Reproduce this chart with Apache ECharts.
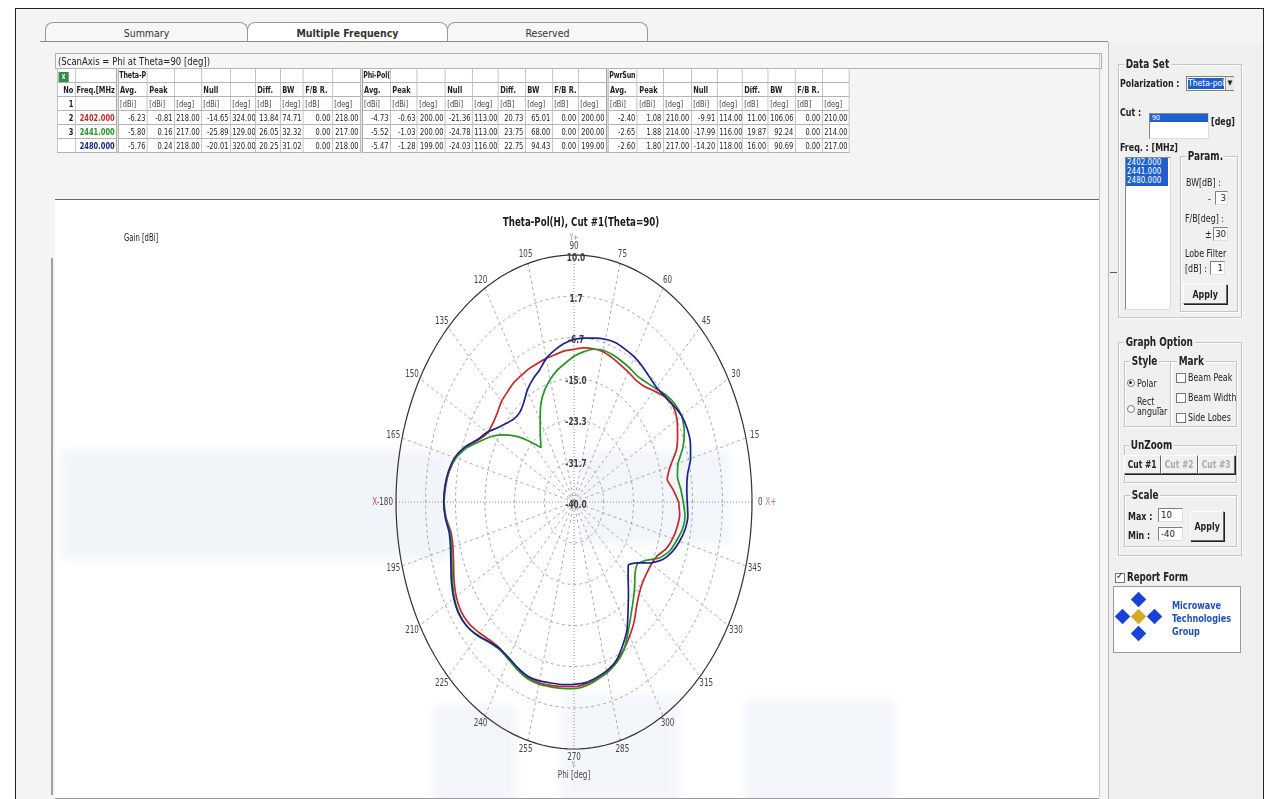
<!DOCTYPE html>
<html><head><meta charset="utf-8">
<script src="https://cdn.jsdelivr.net/npm/echarts/dist/echarts.min.js"></script>
<style>
html,body{margin:0;padding:0;background:#fff;width:1267px;height:799px;overflow:hidden;
 font-family:"DejaVu Sans Condensed","Liberation Sans",Arial,sans-serif;color:#222;}
.a{position:absolute;}
.tab{position:absolute;top:22px;height:19px;border:1px solid #9a9a9a;border-bottom:none;border-radius:8px 8px 0 0;background:#f7f7f7;font-size:10.5px;text-align:center;line-height:20px;color:#333;}
#tblwrap{position:absolute;left:57px;top:68px;transform:scaleX(.78);transform-origin:0 0;}
#tbl{border-collapse:collapse;table-layout:fixed;background:#fff;}
#tbl td{border:1px solid #b4b4b4;height:13px;padding:0 2px;font-size:9.5px;white-space:nowrap;overflow:hidden;line-height:13px;}
.gb{position:absolute;border:1px solid #c4c4c4;box-shadow:inset 1px 1px 0 #fff,1px 1px 0 #fff;}
.gbt{position:absolute;background:#f0f0f0;padding:0 2px;font-weight:bold;font-size:11.5px;line-height:14px;transform:scaleX(.86);transform-origin:0 50%;white-space:nowrap;}
.lbl{position:absolute;font-size:10.5px;line-height:13px;white-space:nowrap;transform:scaleX(.84);transform-origin:0 50%;}
.btn{position:absolute;background:#f0f0f0;border:1px solid #fff;border-right-color:#666;border-bottom-color:#666;box-shadow:1px 1px 0 #222;font-weight:bold;font-size:10.5px;text-align:center;white-space:nowrap;}
.btn span{display:inline-block;transform:scaleX(.84);}
.inp{position:absolute;background:#fff;border:1px solid #808080;border-right-color:#e0e0e0;border-bottom-color:#e0e0e0;font-size:9.5px;line-height:12px;text-align:right;padding-right:1px;box-sizing:border-box;}
.cb{position:absolute;width:8px;height:8px;border:1px solid #777;background:#fff;}
.wm{position:absolute;background:#e6eef7;filter:blur(5px);}
#chart{position:absolute;left:0;top:0;width:1267px;height:799px;z-index:10;pointer-events:none;}
</style></head>
<body>
<!-- window frame and panels -->
<div class="a" style="left:15px;top:8px;width:1247px;height:795px;border:1px solid #222;background:#f4f4f4;"></div>
<div class="tab" style="left:45px;width:201px;">Summary</div>
<div class="tab" style="left:247px;width:199px;background:#fff;font-weight:bold;">Multiple Frequency</div>
<div class="tab" style="left:447px;width:199px;">Reserved</div>
<div class="a" style="left:40px;top:41px;width:1068px;height:0;border-top:1px solid #8a8a8a;"></div>
<div class="a" style="left:55px;top:53px;width:1043px;height:14px;border:1px solid #b0b0b0;background:#f6f6f6;font-size:10.5px;line-height:14px;padding-left:2px;box-sizing:content-box;white-space:nowrap;"><span style="display:inline-block;transform:scaleX(.9);transform-origin:0 50%;">(ScanAxis = Phi at Theta=90 [deg])</span></div>
<div id="tblwrap"><table id="tbl"></table></div>
<div class="a" style="left:55px;top:199px;width:1044px;height:598px;background:#fff;border-top:1px solid #6a6a6a;border-bottom:1px solid #9a9a9a;overflow:hidden;">
 <div class="wm" style="left:5px;top:250px;width:390px;height:110px;opacity:.55;"></div>
 <div class="wm" style="left:525px;top:250px;width:150px;height:95px;opacity:.5;"></div>
 <div class="wm" style="left:378px;top:505px;width:85px;height:100px;opacity:.5;"></div>
 <div class="wm" style="left:505px;top:495px;width:120px;height:110px;opacity:.45;"></div>
 <div class="wm" style="left:690px;top:500px;width:150px;height:105px;opacity:.5;"></div>
</div>
<div class="a" style="left:51px;top:258px;width:2px;height:537px;background:#a0a0a0;"></div>
<div class="a" style="left:1099px;top:53px;width:1px;height:744px;background:#c8c8c8;"></div>
<!-- right panel -->
<div class="a" style="left:1108px;top:42px;width:153px;height:760px;background:#f0f0f0;border-left:1px solid #b8b8b8;"></div>
<div class="a" style="left:1110px;top:272px;width:7px;height:1px;background:#555;"></div>
<div id="rp"></div>
<div id="chart"></div>
<script>
// ---------------- data ----------------
const phi = [0,5,10,15,20,25,30,35,40,45,50,55,60,65,70,75,80,85,90,95,100,105,110,115,120,125,130,135,140,145,150,155,160,165,170,175,180,185,190,195,200,205,210,215,220,225,230,235,240,245,250,255,260,265,270,275,280,285,290,295,300,305,310,315,320,325,330,335,340,345,350,355];
const gain2402 = [-10.6,-12.0,-13.4,-12.0,-9.4,-7.9,-6.6,-6.1,-6.8,-8.2,-9.4,-9.8,-9.6,-9.3,-8.9,-8.5,-8.5,-8.7,-9.1,-9.3,-9.7,-9.9,-10.1,-10.2,-10.4,-10.5,-10.9,-11.2,-11.9,-12.2,-12.0,-10.3,-7.6,-5.6,-4.4,-3.8,-3.5,-3.9,-4.9,-4.8,-4.0,-2.8,-1.8,-1.3,-1.6,-2.5,-3.4,-3.8,-3.3,-2.7,-2.2,-2.1,-2.3,-2.5,-2.6,-3.0,-3.6,-4.2,-5.4,-7.0,-8.7,-10.5,-12.6,-14.0,-14.8,-15.0,-14.9,-14.2,-12.4,-11.3,-10.6,-10.2];
const gain2441 = [-9.3,-9.9,-10.5,-9.7,-7.4,-5.8,-5.1,-5.4,-6.3,-7.5,-8.4,-8.9,-8.7,-8.5,-8.3,-8.2,-8.6,-9.5,-10.5,-11.8,-12.9,-14.3,-15.9,-18.0,-21.0,-23.5,-25.6,-22.8,-19.4,-16.3,-13.4,-10.9,-7.9,-5.6,-4.3,-3.7,-3.5,-3.8,-4.6,-4.4,-3.5,-2.3,-1.2,-0.6,-0.8,-1.7,-2.9,-3.5,-3.2,-2.5,-1.9,-1.8,-2.0,-2.1,-2.2,-2.6,-3.4,-4.3,-5.3,-6.9,-9.6,-12.1,-14.1,-15.9,-17.6,-18.2,-16.4,-13.3,-11.3,-10.1,-9.0,-8.7];
const gain2480 = [-8.2,-8.2,-7.6,-6.1,-5.2,-4.9,-5.1,-5.9,-6.7,-7.2,-7.0,-6.5,-6.1,-5.9,-5.7,-5.9,-6.3,-6.7,-7.1,-7.8,-8.8,-9.9,-11.6,-12.6,-13.8,-15.4,-16.3,-16.2,-15.2,-13.8,-11.8,-10.1,-7.4,-5.3,-4.2,-3.6,-3.4,-3.7,-4.4,-4.1,-3.2,-2.0,-1.0,-0.5,-0.8,-1.8,-3.0,-3.7,-3.5,-2.9,-2.4,-2.5,-2.8,-2.9,-3.1,-3.3,-3.9,-4.6,-5.7,-7.8,-10.2,-13.5,-16.2,-18.5,-20.1,-18.5,-15.3,-12.5,-10.6,-9.3,-8.3,-7.9];
const seriesNames = ['2402.000','2441.000','2480.000'];
const seriesColors = ['#cc2626','#229622','#1a2290'];
const ringTicks = [10.0, 1.7, -6.7, -15.0, -23.3, -31.7, -40.0];
const angleTicks = [0,15,30,45,60,75,90,105,120,135,150,165,180,195,210,225,240,255,270,285,300,315,330,345];
const chartTitle = 'Theta-Pol(H), Cut #1(Theta=90)';

// table texts
const grpHead = ['Theta-P','Phi-Pol(','PwrSun'];
const colHead = ['Avg.','Peak','','Null','','Diff.','BW','F/B R.',''];
const colUnit = ['[dBi]','[dBi]','[deg]','[dBi]','[deg]','[dB]','[deg]','[dB]','[deg]'];
const tRowNo = ['2','3',''];
const tRow2402 = ['-6.23','-0.81','218.00','-14.65','324.00','13.84','74.71','0.00','218.00','-4.73','-0.63','200.00','-21.36','113.00','20.73','65.01','0.00','200.00','-2.40','1.08','210.00','-9.91','114.00','11.00','106.06','0.00','210.00'];
const tRow2441 = ['-5.80','0.16','217.00','-25.89','129.00','26.05','32.32','0.00','217.00','-5.52','-1.03','200.00','-24.78','113.00','23.75','68.00','0.00','200.00','-2.65','1.88','214.00','-17.99','116.00','19.87','92.24','0.00','214.00'];
const tRow2480 = ['-5.76','0.24','218.00','-20.01','320.00','20.25','31.02','0.00','218.00','-5.47','-1.28','199.00','-24.03','116.00','22.75','94.43','0.00','199.00','-2.60','1.80','217.00','-14.20','118.00','16.00','90.69','0.00','217.00'];

// ---------------- table ----------------
(function(){
 const K=0.78;
 const colW=[18,42,30,27,27,29,25,25,23,29,29,29,27,28,27,26,27,27,26,29,30,26,28,26,25,26,27,27,27];
 const t=document.getElementById('tbl');
 const tot=colW.reduce((s,w)=>s+w,0);
 t.style.width=(tot/K).toFixed(1)+'px';
 let cg='<colgroup>'+colW.map(w=>'<col style="width:'+(w/K).toFixed(2)+'px">').join('')+'</colgroup>';
 const sep=i=>(i===2||i===11||i===20)?'border-left:3px double #8a8a8a;':'';
 function row(cells){return '<tr>'+cells.map((c,i)=>'<td style="'+sep(i)+(c.s||'')+'">'+(c.t||'')+'</td>').join('')+'</tr>';}
 let r1=[{t:'<span style="display:inline-block;width:13px;height:10px;background:#2f8f3f;color:#fff;font-size:8px;line-height:10px;text-align:center;font-weight:bold;vertical-align:middle;">x</span>',s:'padding:0 1px;'},{}];
 for(let g=0;g<3;g++){r1.push({t:grpHead[g],s:'font-weight:bold;padding:0 0 0 1px;font-size:9px;letter-spacing:-0.2px;'});for(let k=0;k<8;k++)r1.push({});}
 let r2=[{t:'No',s:'font-weight:bold;text-align:right;'},{t:'Freq.[MHz',s:'font-weight:bold;padding:0 0 0 1px;'}];
 for(let g=0;g<3;g++)colHead.forEach(h=>r2.push({t:h,s:'font-weight:bold;'}));
 let r3=[{t:'1',s:'font-weight:bold;text-align:right;'},{}];
 for(let g=0;g<3;g++)colUnit.forEach(h=>r3.push({t:h,s:'color:#444;'}));
 const rows=[tRow2402,tRow2441,tRow2480];
 let html=cg+row(r1)+row(r2)+row(r3);
 rows.forEach((vals,ri)=>{
  let r=[{t:tRowNo[ri],s:'font-weight:bold;text-align:right;'},{t:seriesNames[ri],s:'font-weight:bold;text-align:right;color:'+seriesColors[ri]+';'}];
  vals.forEach(v=>r.push({t:v,s:'text-align:right;'}));
  html+=row(r);
 });
 t.innerHTML=html;
})();

// ---------------- right panel ----------------
(function(){
 const rp=document.getElementById('rp');
 function add(cls,css,txt){const d=document.createElement('div');d.className=cls;d.style.cssText=css;if(txt!==undefined)d.innerHTML=txt;rp.appendChild(d);return d;}
 add('gb','left:1118px;top:64px;width:122px;height:252px;');
 add('gbt','left:1124px;top:57px;','Data Set');
 add('lbl','left:1120px;top:77px;font-weight:bold;','Polarization :');
 add('a','left:1186px;top:76px;width:48px;height:15px;background:#fff;border:1px solid #808080;box-sizing:border-box;');
 add('a','left:1188px;top:78px;width:36px;height:11px;background:#1e5fd0;color:#fff;font-size:8.5px;line-height:11px;overflow:hidden;white-space:nowrap;','Theta-pol');
 add('a','left:1225px;top:77px;width:8px;height:13px;background:#e8e8e8;border-left:1px solid #999;font-size:7px;line-height:13px;text-align:center;','&#9660;');
 add('lbl','left:1120px;top:106px;font-weight:bold;','Cut :');
 add('a','left:1149px;top:113px;width:60px;height:26px;background:#fff;border:1px solid #888;border-right-color:#ddd;border-bottom-color:#ddd;box-sizing:border-box;');
 add('a','left:1150px;top:114px;width:58px;height:8px;background:#1e5fd0;color:#fff;font-size:7px;line-height:8px;padding-left:2px;box-sizing:border-box;','90');
 add('lbl','left:1211px;top:115px;font-weight:bold;','[deg]');
 add('lbl','left:1120px;top:141px;font-weight:bold;','Freq. : [MHz]');
 add('a','left:1125px;top:157px;width:46px;height:153px;background:#fff;border:1px solid #888;border-right-color:#ddd;border-bottom-color:#ddd;box-sizing:border-box;');
 add('a','left:1126px;top:158px;width:42px;height:28px;background:#1e5fd0;color:#fff;font-size:8px;line-height:9px;padding-left:1px;box-sizing:border-box;','2402.000<br>2441.000<br>2480.000');
 add('gb','left:1180px;top:156px;width:56px;height:154px;');
 add('gbt','left:1186px;top:149px;','Param.');
 add('lbl','left:1186px;top:176px;','BW[dB] :');
 add('lbl','left:1208px;top:192px;','-');
 add('inp','left:1215px;top:191px;width:13px;height:14px;','3');
 add('lbl','left:1185px;top:212px;','F/B[deg] :');
 add('lbl','left:1205px;top:228px;','&#177;');
 add('inp','left:1213px;top:227px;width:15px;height:14px;','30');
 add('lbl','left:1185px;top:247px;','Lobe Filter');
 add('lbl','left:1185px;top:262px;','[dB] :');
 add('inp','left:1210px;top:261px;width:15px;height:14px;','1');
 add('btn','left:1183px;top:284px;width:42px;height:18px;line-height:18px;','<span>Apply</span>');
 add('gb','left:1118px;top:342px;width:122px;height:212px;');
 add('gbt','left:1124px;top:335px;','Graph Option');
 add('gb','left:1124px;top:361px;width:46px;height:64px;');
 add('gbt','left:1130px;top:354px;','Style');
 add('gb','left:1170px;top:361px;width:65px;height:64px;');
 add('gbt','left:1177px;top:354px;','Mark');
 add('a','left:1127px;top:379px;width:6px;height:6px;border:1px solid #777;border-radius:50%;background:#fff;');
 add('a','left:1129px;top:381px;width:3px;height:3px;border-radius:50%;background:#222;');
 add('lbl','left:1137px;top:377px;','Polar');
 add('a','left:1127px;top:405px;width:6px;height:6px;border:1px solid #777;border-radius:50%;background:#fff;');
 add('lbl','left:1137px;top:396px;line-height:10px;','Rect _<br>angular');
 ['Beam Peak','Beam Width','Side Lobes'].forEach((t,i)=>{add('cb','left:1176px;top:'+(373+i*20)+'px;');add('lbl','left:1188px;top:'+(371+i*20)+'px;',t);});
 add('gb','left:1124px;top:445px;width:111px;height:36px;');
 add('gbt','left:1129px;top:438px;','UnZoom');
 add('btn','left:1124px;top:455px;width:35px;height:17px;line-height:17px;font-size:10px;','<span>Cut #1</span>');
 add('btn','left:1161px;top:455px;width:35px;height:17px;line-height:17px;font-size:10px;color:#aaa;','<span>Cut #2</span>');
 add('btn','left:1198px;top:455px;width:35px;height:17px;line-height:17px;font-size:10px;color:#aaa;','<span>Cut #3</span>');
 add('gb','left:1124px;top:495px;width:111px;height:50px;');
 add('gbt','left:1130px;top:488px;','Scale');
 add('lbl','left:1128px;top:510px;font-weight:bold;','Max :');
 add('inp','left:1158px;top:508px;width:25px;height:14px;text-align:left;padding-left:2px;','10');
 add('lbl','left:1128px;top:529px;font-weight:bold;','Min :');
 add('inp','left:1158px;top:527px;width:25px;height:14px;text-align:left;padding-left:2px;','-40');
 add('btn','left:1190px;top:511px;width:32px;height:28px;line-height:28px;','<span>Apply</span>');
 add('cb','left:1115px;top:573px;');
 add('a','left:1116px;top:570px;font-size:10px;font-weight:bold;','&#10003;');
 add('lbl','left:1127px;top:571px;font-weight:bold;font-size:11.5px;','Report Form');
 add('a','left:1113px;top:586px;width:126px;height:65px;background:#fff;border:1px solid #999;');
 const dm=(x,y,c)=>add('a','left:'+x+'px;top:'+y+'px;width:11px;height:11px;background:'+c+';transform:rotate(45deg);');
 dm(1133,594,'#1842d8');dm(1117,611,'#1842d8');dm(1149,611,'#1842d8');dm(1133,628,'#1842d8');dm(1133,611,'#d8a828');
 add('a','left:1172px;top:599px;color:#2050c0;font-weight:bold;font-size:11px;line-height:13px;transform:scaleX(.82);transform-origin:0 50%;','Microwave<br>Technologies<br>Group');
})();

// ---------------- chart ----------------
const D = Math.PI/180;
const R0 = ringTicks[ringTicks.length-1];
const R1 = ringTicks[0];
const SPAN = R1 - R0;
function toXY(a, g){ const r = g - R0; return [r*Math.cos(a*D), r*Math.sin(a*D)]; }
function closed(arr){ const p = phi.map((a,i)=>toXY(a, arr[i])); p.push(p[0]); return p; }
const FONT = '"DejaVu Sans Condensed","Liberation Sans",Arial,sans-serif';
const SX = 0.8;
const chart = echarts.init(document.getElementById('chart'), null, {renderer:'canvas'});
const gains = [gain2402, gain2441, gain2480];
function txt(x, y, text, font, fill, align){
  return {type:'text', x:x, y:y, scaleX:SX, style:{text:text, font:font, fill:fill, align:align||'center', verticalAlign:'middle'}};
}
chart.setOption({
 backgroundColor:'transparent',
 animation:false,
 grid:{left:396, top:255, width:356, height:494, containLabel:false},
 xAxis:{type:'value', min:-SPAN, max:SPAN, show:false},
 yAxis:{type:'value', min:-SPAN, max:SPAN, show:false},
 graphic:[
  {type:'text', x:581, y:223, scaleX:0.74, style:{text:chartTitle, font:'bold 13px '+FONT, fill:'#1a1a1a', align:'center', verticalAlign:'middle'}},
  {type:'text', x:124, y:238, scaleX:0.76, style:{text:'Gain [dBi]', font:'10px '+FONT, fill:'#222', align:'left', verticalAlign:'middle'}}
 ],
 series:[
  {type:'custom', coordinateSystem:'cartesian2d', silent:true, clip:false, z:1,
   data: angleTicks.map(a=>[a,0]),
   renderItem(params, api){
     const a = api.value(0); const c = api.coord([0,0]);
     const e = api.coord([SPAN*Math.cos(a*D), SPAN*Math.sin(a*D)]);
     const main = a % 90 === 0;
     return {type:'line', shape:{x1:c[0],y1:c[1],x2:e[0],y2:e[1]},
       style:{stroke: main?'#8c8c8c':'#ababab', lineWidth:1, lineDash: main?[1,2]:[3,3]}};
   }},
  {type:'custom', coordinateSystem:'cartesian2d', silent:true, clip:false, z:2,
   data: ringTicks.slice(0,-1).map(v=>[v,0]),
   renderItem(params, api){
     const v = api.value(0); const r = v - R0; const pts = [];
     for(let a=0;a<=360;a+=2){ pts.push(api.coord([r*Math.cos(a*D), r*Math.sin(a*D)])); }
     const outer = params.dataIndex === 0;
     return {type:'polyline', shape:{points:pts},
       style:{fill:null, stroke: outer?'#333':'#a8a8a8', lineWidth: outer?1.2:1, lineDash: outer?null:[3,3]}};
   }},
  {type:'custom', coordinateSystem:'cartesian2d', silent:true, clip:false, z:3,
   data: angleTicks.map(a=>[a,0]),
   renderItem(params, api){
     const a = api.value(0);
     const e = api.coord([SPAN*Math.cos(a*D), SPAN*Math.sin(a*D)]);
     const off = 9;
     const x = e[0] + off*Math.cos(a*D), y = e[1] - off*Math.sin(a*D);
     const f = '10px '+FONT, c = '#444';
     if (a === 90) return {type:'group', children:[
       txt(e[0], e[1]-9, '90', f, c), txt(e[0], e[1]-17, 'Y+', '8px '+FONT, '#70b070')]};
     if (a === 270) return {type:'group', children:[
       txt(e[0], e[1]+8, '270', f, c), txt(e[0], e[1]+17, 'Y-', '8px '+FONT, '#70b070'), txt(e[0], e[1]+26, 'Phi [deg]', f, c)]};
     if (a === 0) return {type:'text', x:e[0]+6, y:e[1], scaleX:SX, style:{text:'{n|0} {p|X+}', align:'left', verticalAlign:'middle',
       rich:{n:{font:f, fill:c}, p:{font:f, fill:'#d8708c'}}}};
     if (a === 180) return {type:'text', x:e[0]-3, y:e[1], scaleX:SX, style:{text:'{p|X-}{n|180}', align:'right', verticalAlign:'middle',
       rich:{n:{font:f, fill:c}, p:{font:f, fill:'#d04848'}}}};
     return txt(x, y, String(a), f, c);
   }},
  {type:'custom', coordinateSystem:'cartesian2d', silent:true, clip:false, z:4,
   data: ringTicks.map(v=>[v,0]),
   renderItem(params, api){
     const v = api.value(0); const p = api.coord([0, v - R0]);
     return {type:'text', x:p[0]+2, y:p[1]+3, scaleX:0.75, style:{text:v.toFixed(1), font:'bold 11px '+FONT, fill:'#3c3c3c', align:'center', verticalAlign:'middle'}};
   }}
 ].concat(gains.map((g,i)=>({
   type:'line', name:seriesNames[i], data:closed(g), showSymbol:false, smooth:0.2, z:6+i,
   lineStyle:{color:seriesColors[i], width:1.7}, itemStyle:{color:seriesColors[i]}, silent:true
 })))
});
</script>
</body></html>
